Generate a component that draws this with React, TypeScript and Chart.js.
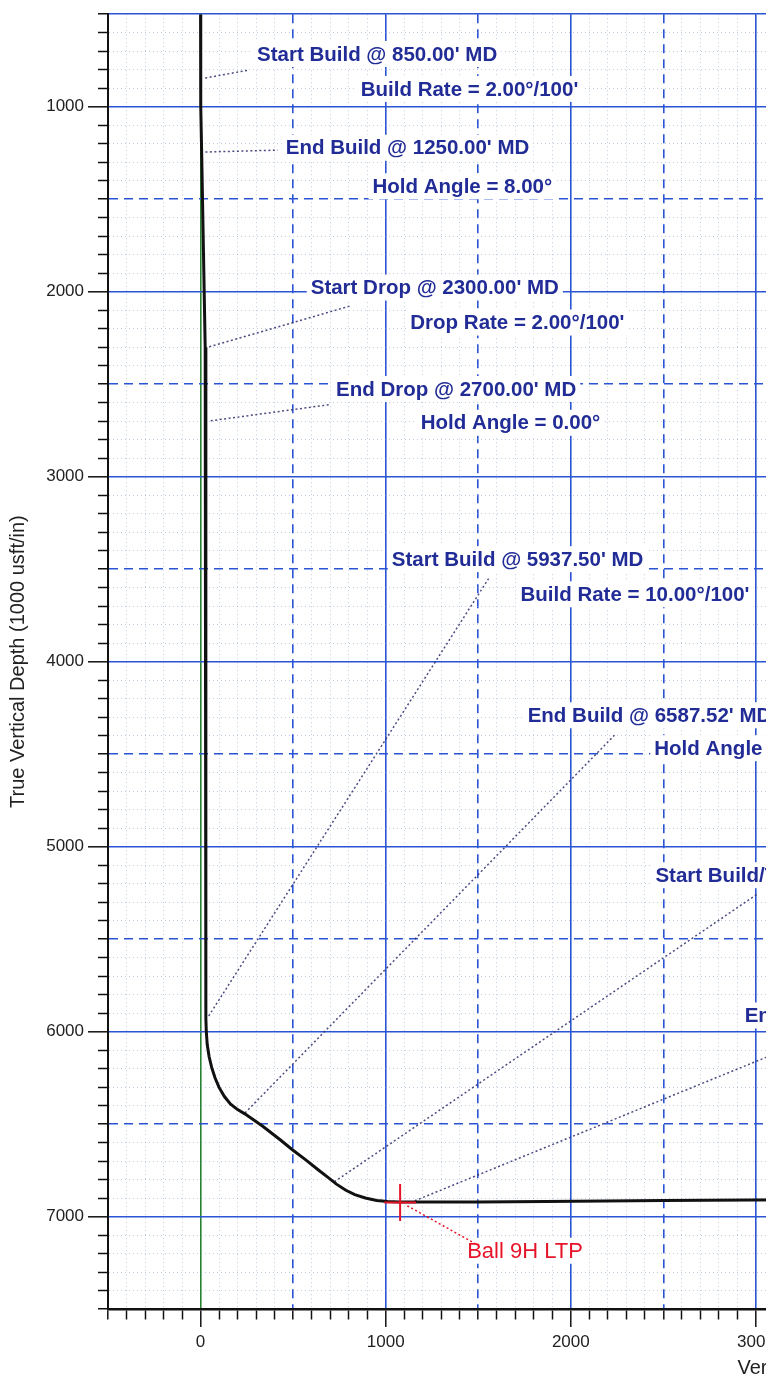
import { useEffect, useRef } from 'react';
import { Chart, registerables } from 'chart.js';

Chart.register(...registerables);

// Wellbore trajectory: vertical section (usft) and true vertical depth (usft)
const trajectoryVS = [0, 0, 2, 6, 16, 25, 28, 29, 29, 31, 36, 46, 60, 78, 100, 128, 161, 200, 239, 336, 430, 496, 570, 635, 690, 734, 785, 833, 890, 952, 1010, 1071, 1500, 1863, 2500, 2976, 3300];
const trajectoryTVD = [500, 850, 1000, 1250, 1800, 2300, 2500, 2700, 5930, 6000, 6070, 6135, 6194, 6250, 6302, 6350, 6391, 6422, 6445, 6512, 6585, 6639, 6695, 6747, 6790, 6825, 6858, 6882, 6900, 6913, 6919, 6922, 6921, 6919, 6914, 6911, 6909];

// Annotation texts and their anchor (left edge, vertical middle) in data units
const annotationTexts = [
  "Start Build @ 850.00' MD",
  "Build Rate = 2.00°/100'",
  "End Build @ 1250.00' MD",
  "Hold Angle = 8.00°",
  "Start Drop @ 2300.00' MD",
  "Drop Rate = 2.00°/100'",
  "End Drop @ 2700.00' MD",
  "Hold Angle = 0.00°",
  "Start Build @ 5937.50' MD",
  "Build Rate = 10.00°/100'",
  "End Build @ 6587.52' MD",
  "Hold Angle = 65.00°",
  "Start Build/Turn @ 6850.00' MD",
  "End Build/Turn @ 7200.00' MD",
];
const annotationVS = [305, 865, 460, 929, 595, 1133, 732, 1189, 1033, 1728, 1767, 2451, 2457, 2939];
const annotationTVD = [715, 904, 1222, 1430, 1978, 2167, 2526, 2709, 3446, 3636, 4290, 4468, 5155, 5913];

// Dotted leader lines from the wellbore to the annotations
const leaderFromVS = [25, 26, 47, 55, 44, 240, 723, 1157];
const leaderFromTVD = [845, 1245, 2298, 2698, 5916, 6440, 6812, 6915];
const leaderToVS = [261, 417, 809, 696, 1556, 2241, 3007, 3200];
const leaderToTVD = [802, 1235, 2077, 2611, 3551, 4393, 5257, 6080];

// Target: Ball 9H LTP
const targetText = 'Ball 9H LTP';
const targetVS = 1078;
const targetTVD = 6924;
const targetCrossVS = [992, 1164];
const targetCrossTVD = [6824, 7024];
const targetLeaderVS = [1117, 1484];
const targetLeaderTVD = [6942, 7147];
const targetLabelVS = 1440;
const targetLabelTVD = 7185;

const FONT = "'Liberation Sans', Arial, sans-serif";
const BLUE = 'rgb(42, 84, 212)';
const NAVY = 'rgb(33, 44, 150)';
const FAINT = 'rgba(120, 145, 190, 0.45)';

function gridColor(v: number, axis: string) {
  if (axis === 'x' && v === 0) return 'rgb(40, 130, 50)';
  if (v % 500 === 0) return BLUE;
  return FAINT;
}
function gridWidth(v: number) {
  if (v % 500 === 0) return 1.6;
  return 1;
}
function gridDash(v: number, min: number) {
  if (v % 1000 === 0 || v === min) return [];
  if (v % 500 === 0) return [9, 6];
  return [1, 3];
}

const labelPlugin = {
  id: 'wellLabels',
  beforeDatasetsDraw(chart: any) {
    const { ctx } = chart;
    const xs = chart.scales.x;
    const ys = chart.scales.y;
    ctx.save();
    ctx.textBaseline = 'middle';
    ctx.textAlign = 'left';
    const draw = (text: string, vx: number, vy: number, color: string, font: string) => {
      ctx.font = font;
      const px = xs.getPixelForValue(vx);
      const py = ys.getPixelForValue(vy);
      const w = ctx.measureText(text).width;
      ctx.fillStyle = '#ffffff';
      ctx.fillRect(px - 4, py - 13, w + 8, 26);
      ctx.fillStyle = color;
      ctx.fillText(text, px, py + 1);
    };
    annotationTexts.forEach((t, i) => draw(t, annotationVS[i], annotationTVD[i], NAVY, `bold 20.5px ${FONT}`));
    draw(targetText, targetLabelVS, targetLabelTVD, 'rgb(230, 20, 40)', `22px ${FONT}`);
    ctx.restore();
  },
};

export default function App() {
  const ref = useRef<HTMLCanvasElement>(null);

  useEffect(() => {
    if (!ref.current) return;
    const trajectory = trajectoryVS.map((v, i) => ({ x: v, y: trajectoryTVD[i] }));
    const leaders = leaderFromVS.map((v, i) => ({
      type: 'line' as const,
      data: [
        { x: v, y: leaderFromTVD[i] },
        { x: leaderToVS[i], y: leaderToTVD[i] },
      ],
      borderColor: 'rgba(55, 55, 115, 0.9)',
      borderWidth: 1.5,
      borderDash: [2, 2.5],
      pointRadius: 0,
      tension: 0,
    }));

    const chart = new Chart(ref.current, {
      type: 'line',
      data: {
        datasets: [
          {
            data: [
              { x: targetCrossVS[0], y: targetTVD },
              { x: targetCrossVS[1], y: targetTVD },
            ],
            borderColor: 'rgb(230, 20, 40)',
            borderWidth: 2,
            pointRadius: 0,
          },
          {
            data: [
              { x: targetVS, y: targetCrossTVD[0] },
              { x: targetVS, y: targetCrossTVD[1] },
            ],
            borderColor: 'rgb(230, 20, 40)',
            borderWidth: 2,
            pointRadius: 0,
          },
          {
            data: trajectory,
            borderColor: '#111111',
            borderWidth: 3,
            pointRadius: 0,
            tension: 0,
          },
          {
            data: [
              { x: targetLeaderVS[0], y: targetLeaderTVD[0] },
              { x: targetLeaderVS[1], y: targetLeaderTVD[1] },
            ],
            borderColor: 'rgb(230, 20, 40)',
            borderWidth: 1.5,
            borderDash: [2, 2.5],
            pointRadius: 0,
          },
          ...leaders,
        ] as any,
      },
      options: {
        animation: false,
        responsive: false,
        devicePixelRatio: 1,
        layout: { padding: { top: 12, right: 20, bottom: 0, left: 0 } },
        plugins: { legend: { display: false }, tooltip: { enabled: false } },
        scales: {
          x: {
            type: 'linear',
            position: 'bottom',
            min: -500,
            max: 8170,
            afterFit: (s: any) => {
              s.height = 73;
            },
            ticks: {
              stepSize: 100,
              autoSkip: false,
              maxTicksLimit: 1000,
              maxRotation: 0,
              minRotation: 0,
              padding: 5,
              color: '#222',
              font: { family: FONT, size: 17 },
              callback: (v: any) => (Math.round(v) % 1000 === 0 ? String(Math.round(v)) : ''),
            },
            grid: {
              color: (c: any) => (c.tick ? gridColor(Math.round(c.tick.value), 'x') : BLUE),
              lineWidth: (c: any) => (c.tick ? gridWidth(Math.round(c.tick.value)) : 1),
              tickLength: 18,
              tickColor: '#111',
              tickWidth: 1.5,
              tickBorderDash: (c: any) => (c.tick && Math.round(c.tick.value) % 1000 === 0 ? [] : [9, 40]),
            },
            border: {
              color: '#111',
              width: 2.5,
              dash: (c: any) => (c.tick ? gridDash(Math.round(c.tick.value), -500) : []),
            },
            title: {
              display: true,
              text: 'Vertical Section at 90.00° (1000 usft/in)',
              color: '#222',
              font: { family: FONT, size: 20 },
              padding: { top: 0, bottom: 2 },
            },
          },
          y: {
            type: 'linear',
            reverse: true,
            min: 500,
            max: 7500,
            afterFit: (s: any) => {
              s.width = 108;
            },
            ticks: {
              stepSize: 100,
              autoSkip: false,
              maxTicksLimit: 1000,
              padding: 4,
              color: '#222',
              font: { family: FONT, size: 17 },
              callback: (v: any) => (Math.round(v) % 1000 === 0 ? String(Math.round(v)) : ''),
            },
            grid: {
              color: (c: any) => (c.tick ? gridColor(Math.round(c.tick.value), 'y') : BLUE),
              lineWidth: (c: any) => (c.tick ? gridWidth(Math.round(c.tick.value)) : 1),
              tickLength: 20,
              tickColor: '#111',
              tickWidth: 1.5,
              tickBorderDash: (c: any) => (c.tick && Math.round(c.tick.value) % 1000 === 0 ? [] : [0, 10, 10, 0]),
            },
            border: {
              color: '#111',
              width: 2,
              dash: (c: any) => (c.tick ? gridDash(Math.round(c.tick.value), 500) : []),
            },
            title: {
              display: true,
              text: 'True Vertical Depth (1000 usft/in)',
              color: '#222',
              font: { family: FONT, size: 20 },
              padding: { top: 6, bottom: 0 },
            },
          },
        },
      } as any,
      plugins: [labelPlugin],
    });
    return () => chart.destroy();
  }, []);

  return (
    <div
      style={{
        position: 'fixed',
        left: 0,
        top: 0,
        width: 766,
        height: 1382,
        overflow: 'hidden',
        background: '#fff',
      }}
    >
      <canvas ref={ref} width={1733} height={1382} style={{ display: 'block' }} />
    </div>
  );
}
